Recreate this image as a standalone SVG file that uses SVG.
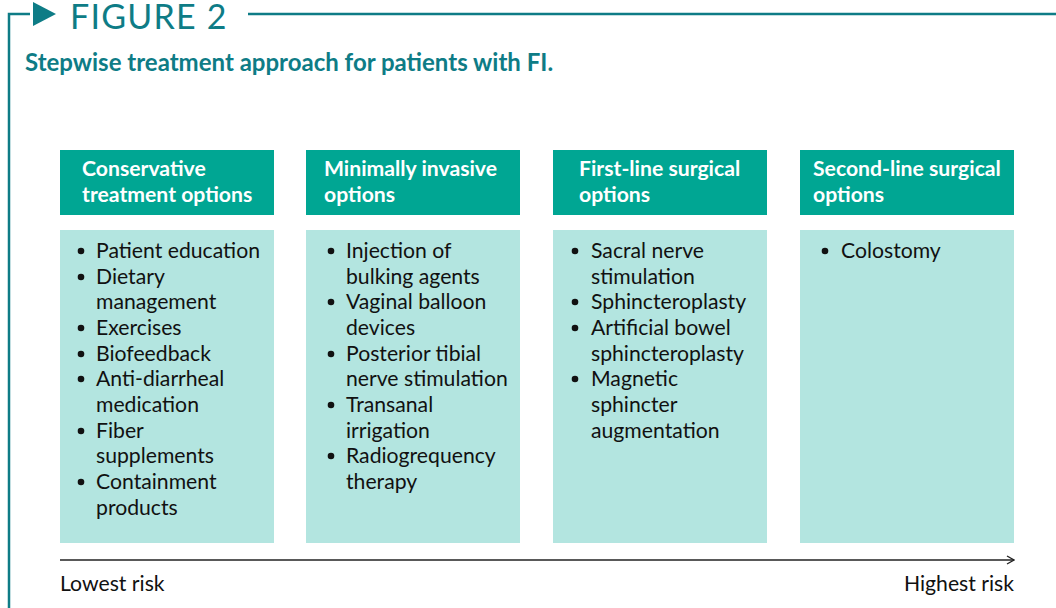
<svg xmlns="http://www.w3.org/2000/svg" width="1056" height="608" viewBox="0 0 1056 608">
  <style>
    .frame { stroke: #0E7C86; stroke-width: 2.5; fill: none; }
    .fig { font-family: Lato, "Open Sans", sans-serif; font-size: 34px; fill: #0E7C86; font-weight: 400; letter-spacing: 1.2px; }
    .title { font-family: Lato, "Open Sans", sans-serif; font-size: 24px; font-weight: 700; fill: #0E7C86; }
    .head { fill: #00A693; }
    .body { fill: #B3E5E0; }
    .htxt { font-family: Lato, "Open Sans", sans-serif; font-size: 21.2px; font-weight: 700; fill: #FFFFFF; }
    .btxt { font-family: Lato, "Open Sans", sans-serif; font-size: 21.2px; fill: #111111; }
    .dot { fill: #111111; }
    .axis { stroke: #222222; stroke-width: 1.5; fill: none; }
  </style>
  <defs>
    <marker id="chev" viewBox="0 0 10 10" refX="9" refY="5" markerWidth="10" markerHeight="10" markerUnits="userSpaceOnUse" orient="auto">
      <path d="M2,1 L9,5 L2,9" fill="none" stroke="#222222" stroke-width="1.3"/>
    </marker>
  </defs>

  <!-- frame and heading -->
  <path class="frame" d="M9,608 V14 H30"/>
  <polygon points="33,2 56,14 33,26" fill="#0E7C86"/>
  <path class="frame" d="M248,14 H1056"/>
  <text class="fig" x="70" y="29">FIGURE 2</text>
  <text class="title" x="25" y="71">Stepwise treatment approach for patients with FI.</text>

  <!-- column 1 -->
  <g id="conservative">
    <rect class="head" x="60" y="150" width="214" height="65"/>
    <text class="htxt" x="82" y="176">Conservative</text>
    <text class="htxt" x="82" y="202">treatment options</text>
    <rect class="body" x="60" y="230" width="214" height="313"/>
    <g class="btxt">
      <circle class="dot" cx="81" cy="251" r="3.3"/>
      <text x="96" y="258">Patient education</text>
      <circle class="dot" cx="81" cy="277" r="3.3"/>
      <text x="96" y="284">Dietary</text>
      <text x="96" y="309">management</text>
      <circle class="dot" cx="81" cy="328" r="3.3"/>
      <text x="96" y="335">Exercises</text>
      <circle class="dot" cx="81" cy="354" r="3.3"/>
      <text x="96" y="361">Biofeedback</text>
      <circle class="dot" cx="81" cy="379" r="3.3"/>
      <text x="96" y="386">Anti-diarrheal</text>
      <text x="96" y="412">medication</text>
      <circle class="dot" cx="81" cy="431" r="3.3"/>
      <text x="96" y="438">Fiber</text>
      <text x="96" y="463">supplements</text>
      <circle class="dot" cx="81" cy="482" r="3.3"/>
      <text x="96" y="489">Containment</text>
      <text x="96" y="515">products</text>
    </g>
  </g>

  <!-- column 2 -->
  <g id="minimally-invasive">
    <rect class="head" x="306" y="150" width="214" height="65"/>
    <text class="htxt" x="324" y="176">Minimally invasive</text>
    <text class="htxt" x="324" y="202">options</text>
    <rect class="body" x="306" y="230" width="214" height="313"/>
    <g class="btxt">
      <circle class="dot" cx="331" cy="251" r="3.3"/>
      <text x="346" y="258">Injection of</text>
      <text x="346" y="284">bulking agents</text>
      <circle class="dot" cx="331" cy="302" r="3.3"/>
      <text x="346" y="309">Vaginal balloon</text>
      <text x="346" y="335">devices</text>
      <circle class="dot" cx="331" cy="354" r="3.3"/>
      <text x="346" y="361">Posterior tibial</text>
      <text x="346" y="386">nerve stimulation</text>
      <circle class="dot" cx="331" cy="405" r="3.3"/>
      <text x="346" y="412">Transanal</text>
      <text x="346" y="438">irrigation</text>
      <circle class="dot" cx="331" cy="456" r="3.3"/>
      <text x="346" y="463">Radiogrequency</text>
      <text x="346" y="489">therapy</text>
    </g>
  </g>

  <!-- column 3 -->
  <g id="first-line">
    <rect class="head" x="553" y="150" width="214" height="65"/>
    <text class="htxt" x="579" y="176">First-line surgical</text>
    <text class="htxt" x="579" y="202">options</text>
    <rect class="body" x="553" y="230" width="214" height="313"/>
    <g class="btxt">
      <circle class="dot" cx="575" cy="251" r="3.3"/>
      <text x="591" y="258">Sacral nerve</text>
      <text x="591" y="284">stimulation</text>
      <circle class="dot" cx="575" cy="302" r="3.3"/>
      <text x="591" y="309">Sphincteroplasty</text>
      <circle class="dot" cx="575" cy="328" r="3.3"/>
      <text x="591" y="335">Artificial bowel</text>
      <text x="591" y="361">sphincteroplasty</text>
      <circle class="dot" cx="575" cy="379" r="3.3"/>
      <text x="591" y="386">Magnetic</text>
      <text x="591" y="412">sphincter</text>
      <text x="591" y="438">augmentation</text>
    </g>
  </g>

  <!-- column 4 -->
  <g id="second-line">
    <rect class="head" x="800" y="150" width="214" height="65"/>
    <text class="htxt" x="813" y="176">Second-line surgical</text>
    <text class="htxt" x="813" y="202">options</text>
    <rect class="body" x="800" y="230" width="214" height="313"/>
    <g class="btxt">
      <circle class="dot" cx="825" cy="251" r="3.3"/>
      <text x="841" y="258">Colostomy</text>
    </g>
  </g>

  <!-- risk axis -->
  <g id="connectors">
    <line class="axis" x1="60" y1="560" x2="1014" y2="560" marker-end="url(#chev)"/>
  </g>
  <text class="btxt" x="60" y="591">Lowest risk</text>
  <text class="btxt" x="1014" y="591" text-anchor="end">Highest risk</text>
</svg>
